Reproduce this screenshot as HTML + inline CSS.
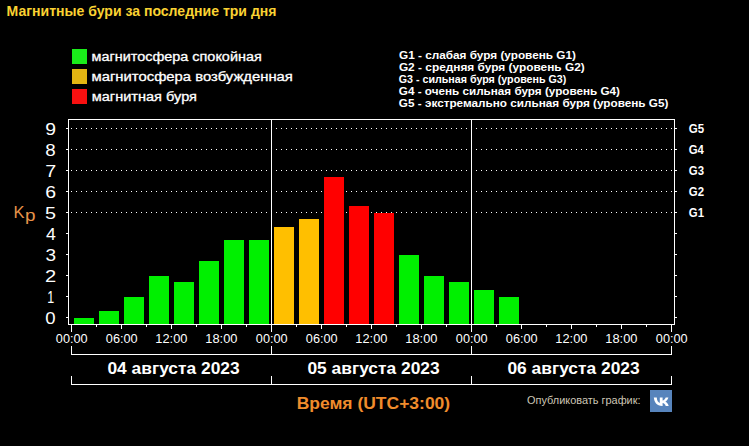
<!DOCTYPE html>
<html><head><meta charset="utf-8">
<style>
html,body{margin:0;padding:0;background:#000000;}
body{width:749px;height:446px;position:relative;overflow:hidden;}
svg{position:absolute;left:0;top:0;font-family:"Liberation Sans",sans-serif;}
</style></head><body>
<svg width="749" height="446">
<g shape-rendering="crispEdges">
<rect x="68" y="119" width="1" height="206" fill="#ffffff"/>
<rect x="68" y="119" width="607" height="1" fill="#ffffff"/>
<rect x="674" y="119" width="1" height="206" fill="#ffffff"/>
<rect x="68" y="324" width="607" height="1" fill="#ffffff"/>
<path d="M71 212h1v1h-1zM76 212h1v1h-1zM81 212h1v1h-1zM86 212h1v1h-1zM91 212h1v1h-1zM96 212h1v1h-1zM101 212h1v1h-1zM106 212h1v1h-1zM111 212h1v1h-1zM116 212h1v1h-1zM121 212h1v1h-1zM126 212h1v1h-1zM131 212h1v1h-1zM136 212h1v1h-1zM141 212h1v1h-1zM146 212h1v1h-1zM151 212h1v1h-1zM156 212h1v1h-1zM161 212h1v1h-1zM166 212h1v1h-1zM171 212h1v1h-1zM176 212h1v1h-1zM181 212h1v1h-1zM186 212h1v1h-1zM191 212h1v1h-1zM196 212h1v1h-1zM201 212h1v1h-1zM206 212h1v1h-1zM211 212h1v1h-1zM216 212h1v1h-1zM221 212h1v1h-1zM226 212h1v1h-1zM231 212h1v1h-1zM236 212h1v1h-1zM241 212h1v1h-1zM246 212h1v1h-1zM251 212h1v1h-1zM256 212h1v1h-1zM261 212h1v1h-1zM266 212h1v1h-1zM271 212h1v1h-1zM276 212h1v1h-1zM281 212h1v1h-1zM286 212h1v1h-1zM291 212h1v1h-1zM296 212h1v1h-1zM301 212h1v1h-1zM306 212h1v1h-1zM311 212h1v1h-1zM316 212h1v1h-1zM321 212h1v1h-1zM326 212h1v1h-1zM331 212h1v1h-1zM336 212h1v1h-1zM341 212h1v1h-1zM346 212h1v1h-1zM351 212h1v1h-1zM356 212h1v1h-1zM361 212h1v1h-1zM366 212h1v1h-1zM371 212h1v1h-1zM376 212h1v1h-1zM381 212h1v1h-1zM386 212h1v1h-1zM391 212h1v1h-1zM396 212h1v1h-1zM401 212h1v1h-1zM406 212h1v1h-1zM411 212h1v1h-1zM416 212h1v1h-1zM421 212h1v1h-1zM426 212h1v1h-1zM431 212h1v1h-1zM436 212h1v1h-1zM441 212h1v1h-1zM446 212h1v1h-1zM451 212h1v1h-1zM456 212h1v1h-1zM461 212h1v1h-1zM466 212h1v1h-1zM471 212h1v1h-1zM476 212h1v1h-1zM481 212h1v1h-1zM486 212h1v1h-1zM491 212h1v1h-1zM496 212h1v1h-1zM501 212h1v1h-1zM506 212h1v1h-1zM511 212h1v1h-1zM516 212h1v1h-1zM521 212h1v1h-1zM526 212h1v1h-1zM531 212h1v1h-1zM536 212h1v1h-1zM541 212h1v1h-1zM546 212h1v1h-1zM551 212h1v1h-1zM556 212h1v1h-1zM561 212h1v1h-1zM566 212h1v1h-1zM571 212h1v1h-1zM576 212h1v1h-1zM581 212h1v1h-1zM586 212h1v1h-1zM591 212h1v1h-1zM596 212h1v1h-1zM601 212h1v1h-1zM606 212h1v1h-1zM611 212h1v1h-1zM616 212h1v1h-1zM621 212h1v1h-1zM626 212h1v1h-1zM631 212h1v1h-1zM636 212h1v1h-1zM641 212h1v1h-1zM646 212h1v1h-1zM651 212h1v1h-1zM656 212h1v1h-1zM661 212h1v1h-1zM666 212h1v1h-1zM671 212h1v1h-1zM71 191h1v1h-1zM76 191h1v1h-1zM81 191h1v1h-1zM86 191h1v1h-1zM91 191h1v1h-1zM96 191h1v1h-1zM101 191h1v1h-1zM106 191h1v1h-1zM111 191h1v1h-1zM116 191h1v1h-1zM121 191h1v1h-1zM126 191h1v1h-1zM131 191h1v1h-1zM136 191h1v1h-1zM141 191h1v1h-1zM146 191h1v1h-1zM151 191h1v1h-1zM156 191h1v1h-1zM161 191h1v1h-1zM166 191h1v1h-1zM171 191h1v1h-1zM176 191h1v1h-1zM181 191h1v1h-1zM186 191h1v1h-1zM191 191h1v1h-1zM196 191h1v1h-1zM201 191h1v1h-1zM206 191h1v1h-1zM211 191h1v1h-1zM216 191h1v1h-1zM221 191h1v1h-1zM226 191h1v1h-1zM231 191h1v1h-1zM236 191h1v1h-1zM241 191h1v1h-1zM246 191h1v1h-1zM251 191h1v1h-1zM256 191h1v1h-1zM261 191h1v1h-1zM266 191h1v1h-1zM271 191h1v1h-1zM276 191h1v1h-1zM281 191h1v1h-1zM286 191h1v1h-1zM291 191h1v1h-1zM296 191h1v1h-1zM301 191h1v1h-1zM306 191h1v1h-1zM311 191h1v1h-1zM316 191h1v1h-1zM321 191h1v1h-1zM326 191h1v1h-1zM331 191h1v1h-1zM336 191h1v1h-1zM341 191h1v1h-1zM346 191h1v1h-1zM351 191h1v1h-1zM356 191h1v1h-1zM361 191h1v1h-1zM366 191h1v1h-1zM371 191h1v1h-1zM376 191h1v1h-1zM381 191h1v1h-1zM386 191h1v1h-1zM391 191h1v1h-1zM396 191h1v1h-1zM401 191h1v1h-1zM406 191h1v1h-1zM411 191h1v1h-1zM416 191h1v1h-1zM421 191h1v1h-1zM426 191h1v1h-1zM431 191h1v1h-1zM436 191h1v1h-1zM441 191h1v1h-1zM446 191h1v1h-1zM451 191h1v1h-1zM456 191h1v1h-1zM461 191h1v1h-1zM466 191h1v1h-1zM471 191h1v1h-1zM476 191h1v1h-1zM481 191h1v1h-1zM486 191h1v1h-1zM491 191h1v1h-1zM496 191h1v1h-1zM501 191h1v1h-1zM506 191h1v1h-1zM511 191h1v1h-1zM516 191h1v1h-1zM521 191h1v1h-1zM526 191h1v1h-1zM531 191h1v1h-1zM536 191h1v1h-1zM541 191h1v1h-1zM546 191h1v1h-1zM551 191h1v1h-1zM556 191h1v1h-1zM561 191h1v1h-1zM566 191h1v1h-1zM571 191h1v1h-1zM576 191h1v1h-1zM581 191h1v1h-1zM586 191h1v1h-1zM591 191h1v1h-1zM596 191h1v1h-1zM601 191h1v1h-1zM606 191h1v1h-1zM611 191h1v1h-1zM616 191h1v1h-1zM621 191h1v1h-1zM626 191h1v1h-1zM631 191h1v1h-1zM636 191h1v1h-1zM641 191h1v1h-1zM646 191h1v1h-1zM651 191h1v1h-1zM656 191h1v1h-1zM661 191h1v1h-1zM666 191h1v1h-1zM671 191h1v1h-1zM71 170h1v1h-1zM76 170h1v1h-1zM81 170h1v1h-1zM86 170h1v1h-1zM91 170h1v1h-1zM96 170h1v1h-1zM101 170h1v1h-1zM106 170h1v1h-1zM111 170h1v1h-1zM116 170h1v1h-1zM121 170h1v1h-1zM126 170h1v1h-1zM131 170h1v1h-1zM136 170h1v1h-1zM141 170h1v1h-1zM146 170h1v1h-1zM151 170h1v1h-1zM156 170h1v1h-1zM161 170h1v1h-1zM166 170h1v1h-1zM171 170h1v1h-1zM176 170h1v1h-1zM181 170h1v1h-1zM186 170h1v1h-1zM191 170h1v1h-1zM196 170h1v1h-1zM201 170h1v1h-1zM206 170h1v1h-1zM211 170h1v1h-1zM216 170h1v1h-1zM221 170h1v1h-1zM226 170h1v1h-1zM231 170h1v1h-1zM236 170h1v1h-1zM241 170h1v1h-1zM246 170h1v1h-1zM251 170h1v1h-1zM256 170h1v1h-1zM261 170h1v1h-1zM266 170h1v1h-1zM271 170h1v1h-1zM276 170h1v1h-1zM281 170h1v1h-1zM286 170h1v1h-1zM291 170h1v1h-1zM296 170h1v1h-1zM301 170h1v1h-1zM306 170h1v1h-1zM311 170h1v1h-1zM316 170h1v1h-1zM321 170h1v1h-1zM326 170h1v1h-1zM331 170h1v1h-1zM336 170h1v1h-1zM341 170h1v1h-1zM346 170h1v1h-1zM351 170h1v1h-1zM356 170h1v1h-1zM361 170h1v1h-1zM366 170h1v1h-1zM371 170h1v1h-1zM376 170h1v1h-1zM381 170h1v1h-1zM386 170h1v1h-1zM391 170h1v1h-1zM396 170h1v1h-1zM401 170h1v1h-1zM406 170h1v1h-1zM411 170h1v1h-1zM416 170h1v1h-1zM421 170h1v1h-1zM426 170h1v1h-1zM431 170h1v1h-1zM436 170h1v1h-1zM441 170h1v1h-1zM446 170h1v1h-1zM451 170h1v1h-1zM456 170h1v1h-1zM461 170h1v1h-1zM466 170h1v1h-1zM471 170h1v1h-1zM476 170h1v1h-1zM481 170h1v1h-1zM486 170h1v1h-1zM491 170h1v1h-1zM496 170h1v1h-1zM501 170h1v1h-1zM506 170h1v1h-1zM511 170h1v1h-1zM516 170h1v1h-1zM521 170h1v1h-1zM526 170h1v1h-1zM531 170h1v1h-1zM536 170h1v1h-1zM541 170h1v1h-1zM546 170h1v1h-1zM551 170h1v1h-1zM556 170h1v1h-1zM561 170h1v1h-1zM566 170h1v1h-1zM571 170h1v1h-1zM576 170h1v1h-1zM581 170h1v1h-1zM586 170h1v1h-1zM591 170h1v1h-1zM596 170h1v1h-1zM601 170h1v1h-1zM606 170h1v1h-1zM611 170h1v1h-1zM616 170h1v1h-1zM621 170h1v1h-1zM626 170h1v1h-1zM631 170h1v1h-1zM636 170h1v1h-1zM641 170h1v1h-1zM646 170h1v1h-1zM651 170h1v1h-1zM656 170h1v1h-1zM661 170h1v1h-1zM666 170h1v1h-1zM671 170h1v1h-1zM71 149h1v1h-1zM76 149h1v1h-1zM81 149h1v1h-1zM86 149h1v1h-1zM91 149h1v1h-1zM96 149h1v1h-1zM101 149h1v1h-1zM106 149h1v1h-1zM111 149h1v1h-1zM116 149h1v1h-1zM121 149h1v1h-1zM126 149h1v1h-1zM131 149h1v1h-1zM136 149h1v1h-1zM141 149h1v1h-1zM146 149h1v1h-1zM151 149h1v1h-1zM156 149h1v1h-1zM161 149h1v1h-1zM166 149h1v1h-1zM171 149h1v1h-1zM176 149h1v1h-1zM181 149h1v1h-1zM186 149h1v1h-1zM191 149h1v1h-1zM196 149h1v1h-1zM201 149h1v1h-1zM206 149h1v1h-1zM211 149h1v1h-1zM216 149h1v1h-1zM221 149h1v1h-1zM226 149h1v1h-1zM231 149h1v1h-1zM236 149h1v1h-1zM241 149h1v1h-1zM246 149h1v1h-1zM251 149h1v1h-1zM256 149h1v1h-1zM261 149h1v1h-1zM266 149h1v1h-1zM271 149h1v1h-1zM276 149h1v1h-1zM281 149h1v1h-1zM286 149h1v1h-1zM291 149h1v1h-1zM296 149h1v1h-1zM301 149h1v1h-1zM306 149h1v1h-1zM311 149h1v1h-1zM316 149h1v1h-1zM321 149h1v1h-1zM326 149h1v1h-1zM331 149h1v1h-1zM336 149h1v1h-1zM341 149h1v1h-1zM346 149h1v1h-1zM351 149h1v1h-1zM356 149h1v1h-1zM361 149h1v1h-1zM366 149h1v1h-1zM371 149h1v1h-1zM376 149h1v1h-1zM381 149h1v1h-1zM386 149h1v1h-1zM391 149h1v1h-1zM396 149h1v1h-1zM401 149h1v1h-1zM406 149h1v1h-1zM411 149h1v1h-1zM416 149h1v1h-1zM421 149h1v1h-1zM426 149h1v1h-1zM431 149h1v1h-1zM436 149h1v1h-1zM441 149h1v1h-1zM446 149h1v1h-1zM451 149h1v1h-1zM456 149h1v1h-1zM461 149h1v1h-1zM466 149h1v1h-1zM471 149h1v1h-1zM476 149h1v1h-1zM481 149h1v1h-1zM486 149h1v1h-1zM491 149h1v1h-1zM496 149h1v1h-1zM501 149h1v1h-1zM506 149h1v1h-1zM511 149h1v1h-1zM516 149h1v1h-1zM521 149h1v1h-1zM526 149h1v1h-1zM531 149h1v1h-1zM536 149h1v1h-1zM541 149h1v1h-1zM546 149h1v1h-1zM551 149h1v1h-1zM556 149h1v1h-1zM561 149h1v1h-1zM566 149h1v1h-1zM571 149h1v1h-1zM576 149h1v1h-1zM581 149h1v1h-1zM586 149h1v1h-1zM591 149h1v1h-1zM596 149h1v1h-1zM601 149h1v1h-1zM606 149h1v1h-1zM611 149h1v1h-1zM616 149h1v1h-1zM621 149h1v1h-1zM626 149h1v1h-1zM631 149h1v1h-1zM636 149h1v1h-1zM641 149h1v1h-1zM646 149h1v1h-1zM651 149h1v1h-1zM656 149h1v1h-1zM661 149h1v1h-1zM666 149h1v1h-1zM671 149h1v1h-1zM71 128h1v1h-1zM76 128h1v1h-1zM81 128h1v1h-1zM86 128h1v1h-1zM91 128h1v1h-1zM96 128h1v1h-1zM101 128h1v1h-1zM106 128h1v1h-1zM111 128h1v1h-1zM116 128h1v1h-1zM121 128h1v1h-1zM126 128h1v1h-1zM131 128h1v1h-1zM136 128h1v1h-1zM141 128h1v1h-1zM146 128h1v1h-1zM151 128h1v1h-1zM156 128h1v1h-1zM161 128h1v1h-1zM166 128h1v1h-1zM171 128h1v1h-1zM176 128h1v1h-1zM181 128h1v1h-1zM186 128h1v1h-1zM191 128h1v1h-1zM196 128h1v1h-1zM201 128h1v1h-1zM206 128h1v1h-1zM211 128h1v1h-1zM216 128h1v1h-1zM221 128h1v1h-1zM226 128h1v1h-1zM231 128h1v1h-1zM236 128h1v1h-1zM241 128h1v1h-1zM246 128h1v1h-1zM251 128h1v1h-1zM256 128h1v1h-1zM261 128h1v1h-1zM266 128h1v1h-1zM271 128h1v1h-1zM276 128h1v1h-1zM281 128h1v1h-1zM286 128h1v1h-1zM291 128h1v1h-1zM296 128h1v1h-1zM301 128h1v1h-1zM306 128h1v1h-1zM311 128h1v1h-1zM316 128h1v1h-1zM321 128h1v1h-1zM326 128h1v1h-1zM331 128h1v1h-1zM336 128h1v1h-1zM341 128h1v1h-1zM346 128h1v1h-1zM351 128h1v1h-1zM356 128h1v1h-1zM361 128h1v1h-1zM366 128h1v1h-1zM371 128h1v1h-1zM376 128h1v1h-1zM381 128h1v1h-1zM386 128h1v1h-1zM391 128h1v1h-1zM396 128h1v1h-1zM401 128h1v1h-1zM406 128h1v1h-1zM411 128h1v1h-1zM416 128h1v1h-1zM421 128h1v1h-1zM426 128h1v1h-1zM431 128h1v1h-1zM436 128h1v1h-1zM441 128h1v1h-1zM446 128h1v1h-1zM451 128h1v1h-1zM456 128h1v1h-1zM461 128h1v1h-1zM466 128h1v1h-1zM471 128h1v1h-1zM476 128h1v1h-1zM481 128h1v1h-1zM486 128h1v1h-1zM491 128h1v1h-1zM496 128h1v1h-1zM501 128h1v1h-1zM506 128h1v1h-1zM511 128h1v1h-1zM516 128h1v1h-1zM521 128h1v1h-1zM526 128h1v1h-1zM531 128h1v1h-1zM536 128h1v1h-1zM541 128h1v1h-1zM546 128h1v1h-1zM551 128h1v1h-1zM556 128h1v1h-1zM561 128h1v1h-1zM566 128h1v1h-1zM571 128h1v1h-1zM576 128h1v1h-1zM581 128h1v1h-1zM586 128h1v1h-1zM591 128h1v1h-1zM596 128h1v1h-1zM601 128h1v1h-1zM606 128h1v1h-1zM611 128h1v1h-1zM616 128h1v1h-1zM621 128h1v1h-1zM626 128h1v1h-1zM631 128h1v1h-1zM636 128h1v1h-1zM641 128h1v1h-1zM646 128h1v1h-1zM651 128h1v1h-1zM656 128h1v1h-1zM661 128h1v1h-1zM666 128h1v1h-1zM671 128h1v1h-1z" fill="#ffffff"/>
<rect x="66" y="317" width="2" height="1" fill="#ffffff"/>
<rect x="675" y="317" width="2" height="1" fill="#ffffff"/>
<rect x="66" y="296" width="2" height="1" fill="#ffffff"/>
<rect x="675" y="296" width="2" height="1" fill="#ffffff"/>
<rect x="66" y="275" width="2" height="1" fill="#ffffff"/>
<rect x="675" y="275" width="2" height="1" fill="#ffffff"/>
<rect x="66" y="254" width="2" height="1" fill="#ffffff"/>
<rect x="675" y="254" width="2" height="1" fill="#ffffff"/>
<rect x="66" y="233" width="2" height="1" fill="#ffffff"/>
<rect x="675" y="233" width="2" height="1" fill="#ffffff"/>
<rect x="66" y="212" width="2" height="1" fill="#ffffff"/>
<rect x="675" y="212" width="2" height="1" fill="#ffffff"/>
<rect x="66" y="191" width="2" height="1" fill="#ffffff"/>
<rect x="675" y="191" width="2" height="1" fill="#ffffff"/>
<rect x="66" y="170" width="2" height="1" fill="#ffffff"/>
<rect x="675" y="170" width="2" height="1" fill="#ffffff"/>
<rect x="66" y="149" width="2" height="1" fill="#ffffff"/>
<rect x="675" y="149" width="2" height="1" fill="#ffffff"/>
<rect x="66" y="128" width="2" height="1" fill="#ffffff"/>
<rect x="675" y="128" width="2" height="1" fill="#ffffff"/>
<rect x="271" y="119" width="1" height="205" fill="#ffffff"/>
<rect x="471" y="119" width="1" height="205" fill="#ffffff"/>
<rect x="71" y="325" width="1" height="7" fill="#ffffff"/>
<rect x="71" y="346" width="1" height="8" fill="#ffffff"/>
<rect x="71" y="376" width="1" height="8" fill="#ffffff"/>
<rect x="271" y="325" width="1" height="7" fill="#ffffff"/>
<rect x="271" y="346" width="1" height="8" fill="#ffffff"/>
<rect x="271" y="376" width="1" height="8" fill="#ffffff"/>
<rect x="471" y="325" width="1" height="7" fill="#ffffff"/>
<rect x="471" y="346" width="1" height="8" fill="#ffffff"/>
<rect x="471" y="376" width="1" height="8" fill="#ffffff"/>
<rect x="671" y="325" width="1" height="7" fill="#ffffff"/>
<rect x="671" y="346" width="1" height="8" fill="#ffffff"/>
<rect x="671" y="376" width="1" height="8" fill="#ffffff"/>
<rect x="121" y="325" width="1" height="4" fill="#ffffff"/>
<rect x="171" y="325" width="1" height="4" fill="#ffffff"/>
<rect x="221" y="325" width="1" height="4" fill="#ffffff"/>
<rect x="321" y="325" width="1" height="4" fill="#ffffff"/>
<rect x="371" y="325" width="1" height="4" fill="#ffffff"/>
<rect x="421" y="325" width="1" height="4" fill="#ffffff"/>
<rect x="521" y="325" width="1" height="4" fill="#ffffff"/>
<rect x="571" y="325" width="1" height="4" fill="#ffffff"/>
<rect x="621" y="325" width="1" height="4" fill="#ffffff"/>
<rect x="96" y="325" width="1" height="2" fill="#ffffff"/>
<rect x="146" y="325" width="1" height="2" fill="#ffffff"/>
<rect x="196" y="325" width="1" height="2" fill="#ffffff"/>
<rect x="246" y="325" width="1" height="2" fill="#ffffff"/>
<rect x="296" y="325" width="1" height="2" fill="#ffffff"/>
<rect x="346" y="325" width="1" height="2" fill="#ffffff"/>
<rect x="396" y="325" width="1" height="2" fill="#ffffff"/>
<rect x="446" y="325" width="1" height="2" fill="#ffffff"/>
<rect x="496" y="325" width="1" height="2" fill="#ffffff"/>
<rect x="546" y="325" width="1" height="2" fill="#ffffff"/>
<rect x="596" y="325" width="1" height="2" fill="#ffffff"/>
<rect x="646" y="325" width="1" height="2" fill="#ffffff"/>
<rect x="74" y="318" width="20" height="6" fill="#00f000"/>
<rect x="99" y="311" width="20" height="13" fill="#00f000"/>
<rect x="124" y="297" width="20" height="27" fill="#00f000"/>
<rect x="149" y="276" width="20" height="48" fill="#00f000"/>
<rect x="174" y="282" width="20" height="42" fill="#00f000"/>
<rect x="199" y="261" width="20" height="63" fill="#00f000"/>
<rect x="224" y="240" width="20" height="84" fill="#00f000"/>
<rect x="249" y="240" width="20" height="84" fill="#00f000"/>
<rect x="274" y="227" width="20" height="97" fill="#ffbf00"/>
<rect x="299" y="219" width="20" height="105" fill="#ffbf00"/>
<rect x="324" y="177" width="20" height="147" fill="#ff0000"/>
<rect x="349" y="206" width="20" height="118" fill="#ff0000"/>
<rect x="374" y="213" width="20" height="111" fill="#ff0000"/>
<rect x="399" y="255" width="20" height="69" fill="#00f000"/>
<rect x="424" y="276" width="20" height="48" fill="#00f000"/>
<rect x="449" y="282" width="20" height="42" fill="#00f000"/>
<rect x="474" y="290" width="20" height="34" fill="#00f000"/>
<rect x="499" y="297" width="20" height="27" fill="#00f000"/>
<rect x="71" y="354" width="601" height="1" fill="#ffffff"/>
<rect x="71" y="384" width="601" height="1" fill="#ffffff"/>
<rect x="650" y="390" width="22" height="22" fill="#5784bc"/>
<path d="M654.5 398.5 h3 c0 3 1.5 5 3 5.5 v-5.5 h2.8 v3.2 c1.3-.2 2.6-1.8 3.1-3.2 h2.7 c-.4 1.9-1.8 3.6-3 4.3 1.3.6 2.8 2.1 3.3 4.2 h-3 c-.4-1.4-1.6-2.6-3.1-2.8 v2.8 h-.4 c-5.3 0-8.3-3.6-8.4-9.5z" fill="#fff" transform="translate(-0.7,-1.1)" shape-rendering="geometricPrecision"/>
</g>
<g>
<text x="6.56" y="16" font-size="14" font-weight="bold" fill="#fad232" textLength="269.92" lengthAdjust="spacingAndGlyphs">Магнитные бури за последние три дня</text>
<text x="91.47" y="61" font-size="12.5" font-weight="normal" fill="#ffffff" textLength="170.29" lengthAdjust="spacingAndGlyphs" stroke="#fff" stroke-width="0.3">магнитосфера спокойная</text>
<text x="91.51" y="81" font-size="12.5" font-weight="normal" fill="#ffffff" textLength="201.39" lengthAdjust="spacingAndGlyphs" stroke="#fff" stroke-width="0.3">магнитосфера возбужденная</text>
<text x="91.76" y="101" font-size="12.5" font-weight="normal" fill="#ffffff" textLength="105.23" lengthAdjust="spacingAndGlyphs" stroke="#fff" stroke-width="0.3">магнитная буря</text>
<text x="399.02" y="59" font-size="11" font-weight="bold" fill="#ffffff" textLength="176.99" lengthAdjust="spacingAndGlyphs">G1 - слабая буря (уровень G1)</text>
<text x="398.9" y="71" font-size="11" font-weight="bold" fill="#ffffff" textLength="185.86" lengthAdjust="spacingAndGlyphs">G2 - средняя буря (уровень G2)</text>
<text x="398.76" y="83" font-size="11" font-weight="bold" fill="#ffffff" textLength="167.58" lengthAdjust="spacingAndGlyphs">G3 - сильная буря (уровень G3)</text>
<text x="398.87" y="95" font-size="11" font-weight="bold" fill="#ffffff" textLength="221.14" lengthAdjust="spacingAndGlyphs">G4 - очень сильная буря (уровень G4)</text>
<text x="398.87" y="107" font-size="11" font-weight="bold" fill="#ffffff" textLength="269.57" lengthAdjust="spacingAndGlyphs">G5 - экстремально сильная буря (уровень G5)</text>
<text x="55.84" y="342.5" font-size="12" font-weight="normal" fill="#ffffff" textLength="31.73" lengthAdjust="spacingAndGlyphs">00:00</text>
<text x="105.84" y="342.5" font-size="12" font-weight="normal" fill="#ffffff" textLength="31.73" lengthAdjust="spacingAndGlyphs">06:00</text>
<text x="155.32" y="342.5" font-size="12" font-weight="normal" fill="#ffffff" textLength="32.1" lengthAdjust="spacingAndGlyphs">12:00</text>
<text x="205.32" y="342.5" font-size="12" font-weight="normal" fill="#ffffff" textLength="32.1" lengthAdjust="spacingAndGlyphs">18:00</text>
<text x="255.84" y="342.5" font-size="12" font-weight="normal" fill="#ffffff" textLength="31.73" lengthAdjust="spacingAndGlyphs">00:00</text>
<text x="305.84" y="342.5" font-size="12" font-weight="normal" fill="#ffffff" textLength="31.73" lengthAdjust="spacingAndGlyphs">06:00</text>
<text x="355.32" y="342.5" font-size="12" font-weight="normal" fill="#ffffff" textLength="32.1" lengthAdjust="spacingAndGlyphs">12:00</text>
<text x="405.32" y="342.5" font-size="12" font-weight="normal" fill="#ffffff" textLength="32.1" lengthAdjust="spacingAndGlyphs">18:00</text>
<text x="455.84" y="342.5" font-size="12" font-weight="normal" fill="#ffffff" textLength="31.73" lengthAdjust="spacingAndGlyphs">00:00</text>
<text x="505.84" y="342.5" font-size="12" font-weight="normal" fill="#ffffff" textLength="31.73" lengthAdjust="spacingAndGlyphs">06:00</text>
<text x="555.32" y="342.5" font-size="12" font-weight="normal" fill="#ffffff" textLength="32.1" lengthAdjust="spacingAndGlyphs">12:00</text>
<text x="605.32" y="342.5" font-size="12" font-weight="normal" fill="#ffffff" textLength="32.1" lengthAdjust="spacingAndGlyphs">18:00</text>
<text x="655.84" y="342.5" font-size="12" font-weight="normal" fill="#ffffff" textLength="31.73" lengthAdjust="spacingAndGlyphs">00:00</text>
<text x="45.33" y="323.5" font-size="16" font-weight="normal" fill="#ffffff" textLength="10.32" lengthAdjust="spacingAndGlyphs">0</text>
<text x="47.23" y="302.5" font-size="16" font-weight="normal" fill="#ffffff" textLength="6.94" lengthAdjust="spacingAndGlyphs">1</text>
<text x="45.04" y="281.5" font-size="16" font-weight="normal" fill="#ffffff" textLength="11.2" lengthAdjust="spacingAndGlyphs">2</text>
<text x="45.43" y="260.5" font-size="16" font-weight="normal" fill="#ffffff" textLength="10.55" lengthAdjust="spacingAndGlyphs">3</text>
<text x="45.92" y="239.5" font-size="16" font-weight="normal" fill="#ffffff" textLength="9.85" lengthAdjust="spacingAndGlyphs">4</text>
<text x="45.12" y="218.5" font-size="16" font-weight="normal" fill="#ffffff" textLength="10.99" lengthAdjust="spacingAndGlyphs">5</text>
<text x="45.19" y="197.5" font-size="16" font-weight="normal" fill="#ffffff" textLength="10.81" lengthAdjust="spacingAndGlyphs">6</text>
<text x="45.22" y="176.5" font-size="16" font-weight="normal" fill="#ffffff" textLength="10.96" lengthAdjust="spacingAndGlyphs">7</text>
<text x="45.39" y="155.5" font-size="16" font-weight="normal" fill="#ffffff" textLength="10.42" lengthAdjust="spacingAndGlyphs">8</text>
<text x="45.19" y="134.5" font-size="16" font-weight="normal" fill="#ffffff" textLength="10.76" lengthAdjust="spacingAndGlyphs">9</text>
<text x="688.87" y="217" font-size="12" font-weight="bold" fill="#ffffff" textLength="15.16" lengthAdjust="spacingAndGlyphs">G1</text>
<text x="688.87" y="196" font-size="12" font-weight="bold" fill="#ffffff" textLength="15.18" lengthAdjust="spacingAndGlyphs">G2</text>
<text x="688.87" y="175" font-size="12" font-weight="bold" fill="#ffffff" textLength="15.18" lengthAdjust="spacingAndGlyphs">G3</text>
<text x="688.75" y="154" font-size="12" font-weight="bold" fill="#ffffff" textLength="15.14" lengthAdjust="spacingAndGlyphs">G4</text>
<text x="688.87" y="133" font-size="12" font-weight="bold" fill="#ffffff" textLength="15.32" lengthAdjust="spacingAndGlyphs">G5</text>
<text x="107.43" y="374" font-size="16" font-weight="bold" fill="#ffffff" textLength="132.23" lengthAdjust="spacingAndGlyphs">04 августа 2023</text>
<text x="307.43" y="374" font-size="16" font-weight="bold" fill="#ffffff" textLength="132.23" lengthAdjust="spacingAndGlyphs">05 августа 2023</text>
<text x="507.43" y="374" font-size="16" font-weight="bold" fill="#ffffff" textLength="132.23" lengthAdjust="spacingAndGlyphs">06 августа 2023</text>
<text x="296.67" y="408.9" font-size="16.3" font-weight="bold" fill="#f08c2c" textLength="153.49" lengthAdjust="spacingAndGlyphs">Время (UTC+3:00)</text>
<text x="527.1" y="404.3" font-size="11" font-weight="normal" fill="#cdc6b6" textLength="113.44" lengthAdjust="spacingAndGlyphs">Опубликовать график:</text>
</g>
<text x="13.5" y="218" font-size="16" fill="#e8944a" textLength="11" lengthAdjust="spacingAndGlyphs">K</text>
<text x="25" y="221" font-size="16" fill="#e8944a" textLength="10.5" lengthAdjust="spacingAndGlyphs">p</text>
<rect x="72" y="49" width="15" height="15" fill="#1aec1a"/>
<rect x="72" y="69" width="15" height="15" fill="#e2b512"/>
<rect x="72" y="89" width="15" height="15" fill="#f81010"/>
</svg>
</body></html>
